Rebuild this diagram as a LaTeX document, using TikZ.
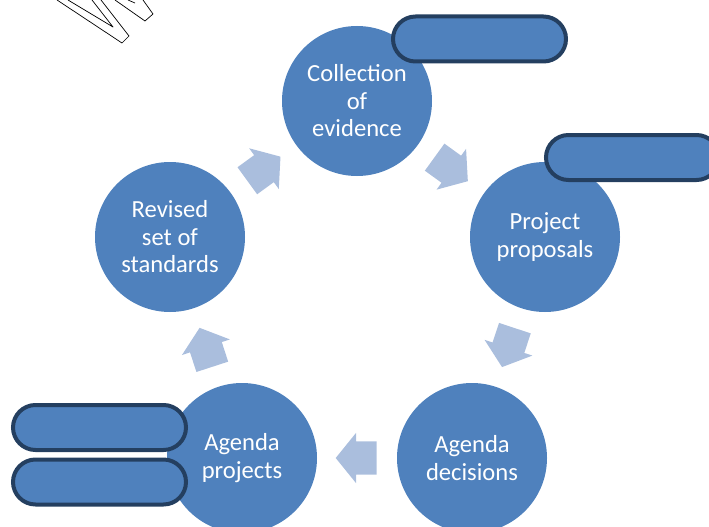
\documentclass[tikz,border=0pt]{standalone}
\usepackage{fontspec}
\setmainfont{Carlito}
\usetikzlibrary{shapes.arrows}
\usetikzlibrary{positioning}

\definecolor{phaseblue}{HTML}{4F81BD}
\definecolor{pillnavy}{HTML}{243F60}
\definecolor{arrowblue}{HTML}{AABEDD}

\begin{document}
\begin{tikzpicture}[x=1pt, y=-1pt]
    \tikzset{
      phase/.style={circle, fill=phaseblue, text=white, minimum size=150pt,
        inner sep=0pt, align=center, font=\fontsize{24.6}{27.5}\selectfont},
      pill/.style={rectangle, rounded corners=22.5pt, fill=phaseblue,
        draw=pillnavy, line width=4pt, minimum width=173pt, minimum height=45pt},
      cyclearrow/.style={single arrow, fill=arrowblue, minimum height=41pt,
        inner xsep=0pt, inner ysep=16.5pt, single arrow head extend=8.5pt,
        single arrow tip angle=102, sloped, allow upside down,
        anchor=tail, pos=0.25},
    }
    \clip (0,0) rectangle (709,527);

    % outline letters, top left
    \draw[line width=0.7pt, line join=round]
      (57,0) -- (122,43) -- (129,36) -- (101,0)
      (68,0) -- (113,27) -- (92,0)
      (115,0) -- (145,21) -- (153,14) -- (143,0)
      (128,0) -- (135,3);

    \node[phase] (col) at (357,101) {Collection\\of\\evidence};
    \node[phase] (prop) at (545,237) {Project\\proposals};
    \node[phase] (dec) at (472,458) {Agenda\\decisions};
    \node[phase] (proj) at (242,458) {Agenda\\projects};
    \node[phase] (rev) at (170,237) {Revised\\set of\\standards};

    \path
      (col) -- node[cyclearrow] {} (prop)
      (prop) -- node[cyclearrow] {} (dec)
      (dec) -- node[cyclearrow] {} (proj)
      (proj) -- node[cyclearrow] {} (rev)
      (rev) -- node[cyclearrow] {} (col);

    \node[pill] (tag1) at (479.5,39) {};
    \node[pill] (tag2) at (632.5,157.5) {};
    \node[pill] (tag3) at (99.5,427.5) {};
    \node[pill] (tag4) at (99.5,482) {};
\end{tikzpicture}
\end{document}
